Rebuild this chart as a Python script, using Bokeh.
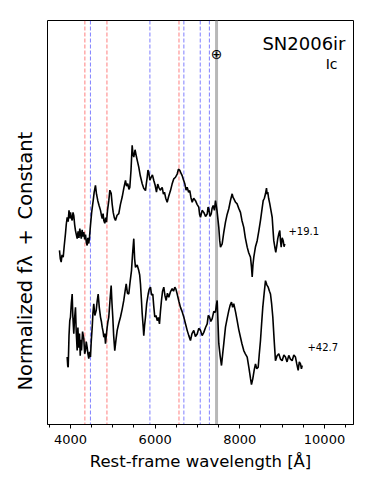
from bokeh.plotting import figure
from bokeh.models import Range1d, Span, Label, FixedTicker, Title
from bokeh.embed import file_html
from bokeh.resources import INLINE

# ---- data ----
wave_19 = [3740, 3760, 3780, 3800, 3828, 3850, 3882, 3900, 3922, 3945, 3965, 3985, 4000, 4020,
           4040, 4060, 4078, 4098, 4118, 4138, 4158, 4180, 4200, 4220, 4236, 4255, 4275, 4295,
           4314, 4335, 4355, 4375, 4394, 4410, 4432, 4450, 4472, 4500, 4536, 4560, 4590, 4615,
           4645, 4675, 4709, 4730, 4750, 4770, 4787, 4810, 4830, 4850, 4875, 4905, 4930, 4961,
           4985, 5009, 5035, 5063, 5100, 5141, 5180, 5221, 5260, 5299, 5325, 5353, 5380, 5401,
           5430, 5457, 5475, 5495, 5525, 5559, 5585, 5613, 5650, 5694, 5730, 5772, 5790, 5812,
           5830, 5849, 5875, 5906, 5935, 5968, 6000, 6031, 6060, 6086, 6120, 6166, 6195, 6220,
           6250, 6284, 6320, 6362, 6400, 6440, 6480, 6520, 6550, 6582, 6610, 6638, 6670, 6700,
           6730, 6756, 6790, 6818, 6845, 6875, 6910, 6953, 6990, 7030, 7050, 7071, 7110, 7149,
           7190, 7229, 7250, 7267, 7295, 7323, 7345, 7371, 7400, 7425, 7460, 7503, 7525, 7543,
           7583, 7620, 7661, 7700, 7739, 7780, 7819, 7840, 7857, 7900, 7937, 7975, 8015, 8050,
           8093, 8130, 8174, 8210, 8252, 8275, 8292, 8310, 8330, 8370, 8410, 8450, 8488, 8520,
           8552, 8580, 8606, 8630, 8645, 8660, 8680, 8708, 8735, 8764, 8785, 8802, 8825, 8849,
           8870, 8896, 8920, 8944, 8960, 8977, 9000, 9024, 9045, 9062]
flux_19 = [4.31, 4.10, 4.02, 4.20, 4.14, 4.40, 4.73, 4.95, 5.13, 5.02, 5.30, 5.10, 5.25, 5.12,
           5.05, 5.25, 5.17, 4.95, 4.80, 4.70, 4.60, 4.78, 4.62, 4.85, 4.73, 4.60, 4.82, 4.65,
           4.76, 4.58, 4.70, 4.50, 4.43, 4.62, 4.48, 4.65, 4.93, 5.25, 5.54, 5.75, 5.92, 5.70,
           5.54, 5.42, 5.30, 5.18, 5.10, 5.22, 5.05, 4.98, 5.12, 5.01, 5.30, 5.54, 5.80, 5.72,
           5.45, 5.25, 5.12, 5.05, 5.18, 5.22, 5.45, 5.63, 5.85, 6.04, 5.90, 5.96, 5.82, 5.87,
           6.30, 6.91, 6.70, 6.62, 6.80, 6.62, 6.50, 6.37, 6.15, 5.96, 5.85, 5.79, 5.95, 6.12,
           6.30, 6.24, 6.05, 6.12, 6.18, 6.04, 5.92, 5.75, 5.95, 5.87, 5.80, 5.87, 5.70, 5.75,
           5.60, 5.50, 5.65, 5.79, 5.95, 6.08, 6.12, 6.20, 6.32, 6.29, 6.22, 6.16, 6.05, 5.96,
           5.80, 5.87, 5.75, 5.79, 5.62, 5.50, 5.60, 5.54, 5.45, 5.38, 5.20, 5.13, 5.30, 5.25,
           5.15, 5.21, 5.38, 5.34, 5.15, 5.21, 5.35, 5.42, 5.30, 5.54, 5.30, 4.88, 4.55, 4.39,
           4.47, 4.75, 5.01, 5.20, 5.34, 5.55, 5.71, 5.62, 5.59, 5.50, 5.46, 5.35, 5.25, 5.05,
           4.88, 4.62, 4.39, 4.25, 4.14, 3.90, 3.65, 3.95, 4.14, 4.40, 4.55, 4.80, 5.05, 5.30,
           5.54, 5.60, 5.71, 5.85, 5.70, 5.75, 5.60, 5.46, 5.30, 5.13, 4.80, 4.55, 4.40, 4.26,
           4.40, 4.60, 4.72, 4.80, 4.55, 4.39, 4.62, 4.55, 4.40, 4.47]

wave_42 = [3922, 3935, 3946, 3965, 3983, 4000, 4020, 4040, 4055, 4078, 4095, 4118, 4135, 4158,
           4175, 4195, 4213, 4230, 4245, 4260, 4285, 4314, 4335, 4354, 4372, 4394, 4412, 4432,
           4450, 4472, 4490, 4513, 4530, 4550, 4575, 4607, 4630, 4654, 4680, 4709, 4730, 4749,
           4770, 4787, 4808, 4827, 4845, 4867, 4885, 4905, 4935, 4961, 4980, 4999, 5020, 5046,
           5075, 5103, 5140, 5181, 5220, 5259, 5290, 5316, 5345, 5377, 5410, 5441, 5465, 5495,
           5515, 5535, 5575, 5613, 5635, 5653, 5675, 5694, 5715, 5731, 5750, 5772, 5800, 5835,
           5860, 5890, 5915, 5944, 5965, 5991, 6020, 6048, 6075, 6102, 6125, 6149, 6175, 6204,
           6230, 6260, 6290, 6322, 6360, 6402, 6435, 6464, 6490, 6520, 6560, 6598, 6635, 6676,
           6715, 6756, 6795, 6834, 6870, 6912, 6950, 6993, 7030, 7071, 7110, 7149, 7190, 7229,
           7255, 7283, 7315, 7347, 7385, 7425, 7445, 7465, 7485, 7503, 7535, 7567, 7595, 7621,
           7661, 7700, 7739, 7770, 7803, 7830, 7857, 7900, 7937, 7975, 8015, 8050, 8093, 8130,
           8174, 8215, 8252, 8275, 8306, 8340, 8370, 8400, 8434, 8460, 8488, 8515, 8542, 8575,
           8606, 8640, 8670, 8700, 8724, 8750, 8779, 8810, 8842, 8880, 8920, 8960, 9000, 9040,
           9078, 9115, 9156, 9195, 9236, 9275, 9314, 9345, 9378, 9405, 9433, 9455, 9473]
flux_42 = [1.67, 1.45, 1.42, 2.20, 2.57, 2.66, 3.00, 3.23, 2.70, 2.25, 2.60, 2.90, 2.30, 1.83,
           2.40, 1.90, 2.25, 1.70, 2.10, 1.83, 2.30, 2.13, 1.75, 1.83, 2.05, 1.91, 1.75, 1.63,
           1.80, 1.67, 2.05, 2.41, 2.75, 2.99, 2.70, 2.82, 3.05, 3.23, 2.90, 2.66, 2.55, 2.41,
           2.30, 2.16, 2.25, 2.00, 2.20, 2.41, 2.55, 2.66, 3.10, 3.44, 3.00, 2.66, 2.20, 1.83,
           2.10, 2.33, 2.50, 2.66, 2.85, 3.07, 3.30, 3.48, 3.25, 3.23, 3.55, 3.81, 4.20, 4.60,
           4.10, 3.89, 3.95, 3.81, 3.70, 3.48, 3.10, 2.74, 2.45, 2.20, 2.45, 2.66, 3.00, 3.23,
           3.35, 3.40, 3.20, 3.23, 2.95, 2.66, 2.70, 2.57, 2.65, 2.49, 2.80, 3.07, 3.30, 3.40,
           3.20, 3.07, 3.25, 3.15, 3.28, 3.36, 3.30, 3.40, 3.35, 3.23, 3.05, 2.90, 2.80, 2.66,
           2.50, 2.33, 2.20, 2.08, 2.25, 2.33, 2.18, 2.24, 2.38, 2.33, 2.20, 2.28, 2.40, 2.49,
           2.70, 2.66, 2.55, 2.62, 2.80, 2.78, 2.95, 3.07, 2.50, 2.00, 1.70, 1.46, 1.75, 2.00,
           2.41, 2.62, 2.82, 2.95, 3.03, 2.90, 2.99, 2.78, 2.57, 2.35, 2.16, 2.00, 1.83, 1.75,
           1.67, 1.40, 1.14, 0.99, 1.13, 1.35, 1.50, 1.38, 1.42, 1.75, 2.08, 2.50, 2.90, 3.25,
           3.56, 3.45, 3.40, 3.30, 3.23, 3.00, 2.66, 2.10, 1.58, 1.70, 1.75, 1.62, 1.58, 1.72,
           1.67, 1.55, 1.71, 1.62, 1.58, 1.72, 1.67, 1.50, 1.34, 1.55, 1.50, 1.38, 1.46]

epoch_labels = ["+19.1", "+42.7"]
h_lines = [4340, 4861, 6563]
he_lines = [4471, 5876, 6678, 7065, 7281]
telluric = 7450
major_ticks = [4000, 6000, 8000, 10000]
minor_ticks = [3500, 4500, 5000, 5500, 6500, 7000, 7500, 8500, 9000, 9500, 10500]
sn_name = "SN2006ir"
sn_type = "Ic"

FONT = "DejaVu Sans"

p = figure(width=366, height=478, output_backend="svg", toolbar_location=None,
           x_range=Range1d(3457, 10685), y_range=Range1d(0, 10),
           min_border_left=47, min_border_right=13, min_border_top=20, min_border_bottom=54)
p.background_fill_color = "white"
p.border_fill_color = "white"
p.outline_line_color = "black"
p.outline_line_width = 1
p.grid.visible = False
p.yaxis.visible = False

ax = p.xaxis[0]
ax.ticker = FixedTicker(ticks=major_ticks, minor_ticks=minor_ticks)
ax.axis_line_color = "black"
ax.major_tick_line_color = "black"
ax.minor_tick_line_color = "black"
ax.major_tick_in = 0
ax.major_tick_out = 4
ax.minor_tick_in = 0
ax.minor_tick_out = 3
ax.major_label_text_font = FONT
ax.major_label_text_font_size = "13px"
ax.major_label_text_color = "black"
ax.major_label_standoff = 6
ax.axis_label = "Rest-frame wavelength [Å]"
ax.axis_label_text_font = FONT
ax.axis_label_text_font_size = "16.5px"
ax.axis_label_text_font_style = "normal"
ax.axis_label_text_color = "black"
ax.axis_label_standoff = 5

for w in h_lines:
    p.add_layout(Span(location=w, dimension="height", line_color="red", line_alpha=0.5,
                      line_width=1, line_dash="4 2", level="underlay"))
for w in he_lines:
    p.add_layout(Span(location=w, dimension="height", line_color="blue", line_alpha=0.5,
                      line_width=1, line_dash="4 2", level="underlay"))
p.add_layout(Span(location=telluric, dimension="height", line_color="#b8b8b8",
                  line_width=3, level="underlay"))

p.line(wave_19, flux_19, line_color="black", line_width=1.6)
p.line(wave_42, flux_42, line_color="black", line_width=1.6)

p.add_layout(Label(x=9149, y=4.78, text=epoch_labels[0], text_font=FONT, text_font_size="10px",
                   text_align="left", text_baseline="middle", text_color="black"))
p.add_layout(Label(x=9598, y=1.91, text=epoch_labels[1], text_font=FONT, text_font_size="10px",
                   text_align="left", text_baseline="middle", text_color="black"))

p.add_layout(Label(x=10496, y=9.42, text=sn_name, text_font=FONT, text_font_size="18px",
                   text_align="right", text_baseline="alphabetic", text_color="black"))
p.add_layout(Label(x=10307, y=8.93, text=sn_type, text_font=FONT, text_font_size="14px",
                   text_align="right", text_baseline="alphabetic", text_color="black"))
p.add_layout(Label(x=telluric, y=9.17, text="\u2295", text_font=FONT, text_font_size="14px",
                   text_align="center", text_baseline="middle", text_color="black"))

ylab = Title(text="Normalized f\u03bb\u2002+\u2002Constant", align="left", offset=34,
             vertical_align="middle", standoff=20, text_font=FONT, text_font_size="19.5px",
             text_font_style="normal", text_color="black")
p.add_layout(ylab, "left")

open("out.html", "w").write(file_html(p, INLINE))
